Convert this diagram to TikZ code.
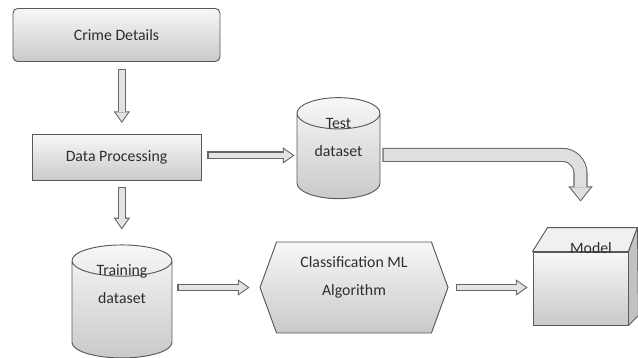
\documentclass[tikz,border=0pt]{standalone}
\usepackage{fontspec}
\setmainfont{Carlito}
\usetikzlibrary{positioning, arrows.meta, shapes.geometric, shapes.symbols, calc}

\begin{document}
\begin{tikzpicture}[
    every node/.style={font=\fontsize{13.5}{24.5}\selectfont, text=black!82},
    shade/.style={draw=black!65, line width=0.8pt, top color=gray!6, bottom color=gray!42},
    box/.style={shade, minimum width=5.07cm, minimum height=1.38cm},
    db/.style={shade, cylinder, shape border rotate=90, aspect=4},
    algo/.style={shade, signal, signal to=west and east, signal pointer angle=140},
    face/.style={draw=black!65, line width=0.8pt, line join=round},
    lbl/.style={align=center},
    harrow/.style={draw=gray!22, line width=5pt, shorten <=0.9pt, shorten >=1.57pt,
        -{Triangle[length=7.5pt, width=10.5pt, line width=0pt]},
        preaction={draw=black!60, line width=6.8pt, shorten <=0pt, shorten >=0pt,
            -{Triangle[length=10pt, width=14pt, line width=0pt]}}},
    bigarrow/.style={draw=gray!25, line width=10.2pt, rounded corners=0.55cm,
        shorten <=0.9pt, shorten >=1.43pt,
        -{Triangle[length=10.67pt, width=17.2pt, line width=0pt]},
        preaction={draw=black!60, line width=12pt, shorten <=0pt, shorten >=0pt,
            -{Triangle[length=13pt, width=21pt, line width=0pt]}}},
]
\useasboundingbox (0,0) rectangle (19.14,-10.74);

\node[box, rounded corners=4pt, minimum width=6.21cm, minimum height=1.59cm] (crime) at (3.495,-1.05) {Crime Details};
\node[box, below=2.16cm of crime] (proc) {Data Processing};
\node[db, minimum width=2.49cm, minimum height=3.03cm] (test) at (10.155,-4.785) {};
\node[db, minimum width=3cm, minimum height=3.39cm] (train) at (3.66,-9.375) {};
\node[algo, minimum width=5.64cm, minimum height=2.73cm] (algo) at (10.62,-8.625) {};
\node[box, minimum width=2.85cm, minimum height=2.19cm] (model) at (17.415,-8.655) {};

% cube faces
\draw[face, fill=gray!12] (model.north west) -- ++(0.45,0.72) -- ($(model.north east)+(0.27,0.72)$) -- (model.north east) -- cycle;
\draw[face, fill=gray!48] (model.north east) -- ($(model.north east)+(0.27,0.72)$) -- ($(model.south east)+(0.3,0.3)$) -- (model.south east) -- cycle;

\node[lbl] (testtxt) at ($(test.center)+(0,0.66)$) {Test\\dataset};
\node[lbl] (traintxt) at ($(train.center)+(0,0.855)$) {Training\\dataset};
\node[lbl] (algotxt) at ($(algo.center)+(0,0.3)$) {Classification ML\\Algorithm};
\node (modeltxt) at ($(model.center)+(0.315,1.215)$) {Model};

\draw[harrow] ([xshift=0.16cm,yshift=-0.21cm]crime.south) -- ([xshift=0.16cm,yshift=0.33cm]proc.north);
\draw[harrow] ([xshift=0.16cm,yshift=-0.18cm]proc.south) -- ($(proc.south |- train.north)+(0.16,0.45)$);
\draw[harrow] ($(proc.east)+(0.18,0.06)$) -- ($(proc.east -| test.west)+(-0.06,0.06)$);
\draw[bigarrow] ($(test.east)+(0.06,0.14)$) -| ($(model.north)+(0,1.5)$);
\draw[harrow] ($(algo.west -| train.east)+(0.15,0)$) -- ($(algo.west)+(-0.3,0)$);
\draw[harrow] ($(algo.east)+(0.21,0)$) -- ($(algo.east -| model.west)+(-0.15,0)$);
\end{tikzpicture}
\end{document}
